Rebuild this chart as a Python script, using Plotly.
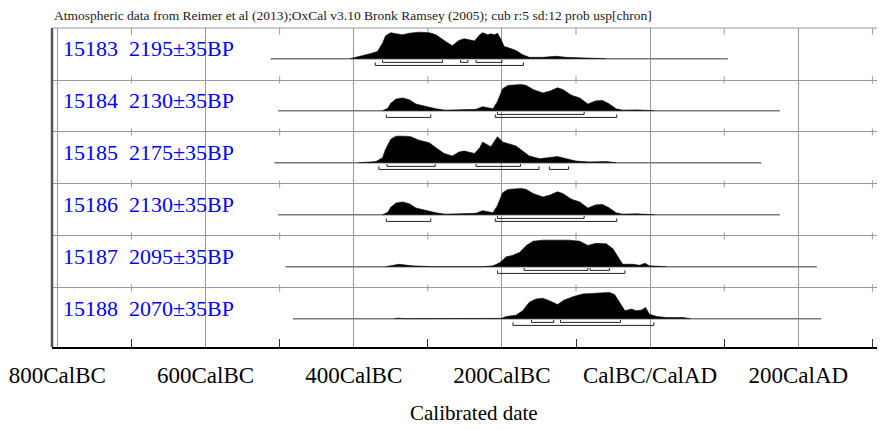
import plotly.graph_objects as go

# ---------------- data ----------------
LAB_CODES = ["15183", "15184", "15185", "15186", "15187", "15188"]
BP_AGES = [2195, 2130, 2175, 2130, 2095, 2070]
BP_ERRORS = [35, 35, 35, 35, 35, 35]

# extent of the distribution line for each sample (cal years, negative = BC)
SPAN_START = [-512, -502, -507, -502, -492, -482]
SPAN_END = [105, 175, 150, 175, 225, 231]

# probability distributions (relative probability, cal years)
YEARS_15183 = [-405, -397, -379, -368, -361, -357, -350, -343, -334, -325, -312, -298, -289, -276, -267,
               -258, -251, -244, -237, -230, -226, -219, -215, -210, -206, -201, -197, -190, -181, -172,
               -163, -145, -127, -113, -82, -60]
PROB_15183 = [0, 0.05, 0.18, 0.27, 0.59, 0.86, 0.98, 0.94, 0.90, 0.96, 1.00, 0.98, 0.90, 0.65, 0.49,
              0.69, 0.75, 0.71, 0.67, 0.90, 0.98, 0.90, 0.94, 0.90, 0.96, 0.71, 0.46, 0.40, 0.31, 0.15,
              0.05, 0.05, 0.09, 0.05, 0.01, 0]

YEARS_15184 = [-361, -354, -350, -343, -334, -325, -316, -303, -289, -276, -253, -235, -226, -219, -212,
               -206, -199, -192, -183, -174, -167, -158, -145, -136, -125, -118, -106, -95, -84, -73,
               -64, -55, -46, -37, -19, -1, 5]
PROB_15184 = [0, 0.09, 0.28, 0.44, 0.48, 0.41, 0.25, 0.15, 0.07, 0.02, 0.04, 0.05, 0.15, 0.12, 0.07,
              0.35, 0.83, 0.95, 0.96, 0.99, 0.95, 0.80, 0.67, 0.73, 0.86, 0.80, 0.58, 0.48, 0.25, 0.37,
              0.38, 0.25, 0.07, 0.02, 0.03, 0.02, 0]

YEARS_15185 = [-393, -370, -361, -357, -350, -343, -332, -323, -312, -298, -289, -278, -267, -258, -251,
               -237, -230, -226, -215, -206, -199, -190, -181, -172, -163, -149, -136, -125, -113, -100,
               -82, -59, -46]
PROB_15185 = [0, 0.04, 0.19, 0.51, 0.88, 1.0, 1.0, 0.98, 0.85, 0.75, 0.56, 0.35, 0.25, 0.40, 0.44,
              0.35, 0.56, 0.78, 0.60, 0.98, 0.78, 0.69, 0.63, 0.44, 0.25, 0.15, 0.18, 0.23, 0.15, 0.06,
              0.03, 0.04, 0]

YEARS_15186 = [-361, -354, -350, -343, -334, -325, -316, -303, -289, -276, -253, -235, -226, -219, -212,
               -206, -199, -192, -183, -174, -167, -158, -145, -136, -125, -118, -106, -95, -84, -73,
               -64, -55, -46, -37, -19, -1, 5]
PROB_15186 = [0, 0.09, 0.28, 0.44, 0.48, 0.41, 0.25, 0.15, 0.07, 0.02, 0.04, 0.05, 0.15, 0.12, 0.07,
              0.35, 0.83, 0.95, 0.96, 0.99, 0.95, 0.80, 0.67, 0.73, 0.86, 0.80, 0.58, 0.48, 0.25, 0.37,
              0.38, 0.25, 0.07, 0.02, 0.03, 0.02, 0]

YEARS_15187 = [-357, -339, -321, -294, -226, -212, -203, -194, -185, -176, -167, -158, -145, -127, -118,
               -109, -95, -84, -73, -59, -50, -43, -37, -23, -14, -7, -1, 22]
PROB_15187 = [0, 0.09, 0.03, 0, 0, 0.03, 0.15, 0.37, 0.43, 0.54, 0.80, 0.96, 1.0, 1.0, 0.99,
              1.0, 0.96, 0.80, 0.88, 0.86, 0.67, 0.35, 0.09, 0.09, 0.05, 0.13, 0.03, 0]

YEARS_15188 = [-345, -339, -332, -205, -201, -194, -181, -172, -163, -154, -145, -136, -125, -116, -104,
               -91, -77, -64, -55, -48, -41, -34, -25, -19, -12, -6, -1, 9, 22, 45, 54]
PROB_15188 = [0, 0.02, 0, 0, 0.01, 0.08, 0.13, 0.30, 0.62, 0.74, 0.77, 0.68, 0.53, 0.70, 0.83,
              0.93, 0.96, 0.97, 0.99, 0.91, 0.62, 0.30, 0.36, 0.30, 0.32, 0.42, 0.17, 0.08, 0.04, 0.04, 0]

# highest posterior density ranges (68.2% and 95.4%)
RANGES_68 = [
    [(-361, -280), (-256, -246), (-235, -200)],
    [(-206, -89)],
    [(-355, -290), (-235, -175)],
    [(-206, -89)],
    [(-170, -84), (-81, -55)],
    [(-160, -130), (-121, -40)],
]
RANGES_95 = [
    [(-371, -171)],
    [(-356, -296), (-209, -45)],
    [(-366, -150), (-136, -110)],
    [(-356, -296), (-209, -45)],
    [(-206, -34)],
    [(-185, 5)],
]

TICK_VALS = [-800, -600, -400, -200, 0, 200]
TICK_TEXT = ["800CalBC", "600CalBC", "400CalBC", "200CalBC", "CalBC/CalAD", "200CalAD"]
MINOR_TICKS = [-700, -500, -300, -100, 100, 300]

HEADER = ("Atmospheric data from Reimer et al (2013);OxCal v3.10 Bronk Ramsey (2005); "
          "cub r:5 sd:12 prob usp[chron]")
AXIS_TITLE = "Calibrated date"

DENS_YEARS = [YEARS_15183, YEARS_15184, YEARS_15185, YEARS_15186, YEARS_15187, YEARS_15188]
DENS_PROBS = [PROB_15183, PROB_15184, PROB_15185, PROB_15186, PROB_15187, PROB_15188]

# ---------------- styling ----------------
SERIF = "Liberation Serif, Times New Roman, serif"
GRID = "#9a9a9a"
ROW_BASE = 0.59      # baseline position inside a row (row units)
DENS_SCALE = 0.51    # height of a unit probability (row units)
B1, B2, B3 = 0.025, 0.072, 0.13   # bracket geometry below baseline
N_ROWS = len(LAB_CODES)
Y_BOTTOM = 6.135

fig = go.Figure()

# short ticks on row separators and top frame
tx, ty = [], []
for yr in MINOR_TICKS:
    tx += [yr, yr, None]
    ty += [0, 0.13, None]
    for r in range(1, N_ROWS):
        tx += [yr, yr, None]
        ty += [r - 0.068, r + 0.068, None]
fig.add_trace(go.Scatter(x=tx, y=ty, mode="lines", line=dict(color=GRID, width=1),
                         hoverinfo="skip"))

for r in range(N_ROWS):
    base = r + ROW_BASE
    # distribution line
    fig.add_trace(go.Scatter(x=[SPAN_START[r], SPAN_END[r]], y=[base, base], mode="lines",
                             line=dict(color="#7a7a7a", width=1.5), hoverinfo="skip"))
    # density
    xs = DENS_YEARS[r]
    ps = DENS_PROBS[r]
    px = [xs[0]] + list(xs) + [xs[-1]]
    py = [base] + [base - p * DENS_SCALE for p in ps] + [base]
    fig.add_trace(go.Scatter(x=px, y=py, mode="lines", fill="toself", fillcolor="black",
                             line=dict(color="black", width=0.6), hoverinfo="skip"))
    # 68.2% brackets
    bx, by = [], []
    for a, b in RANGES_68[r]:
        bx += [a, a, b, b, None]
        by += [base + B1, base + B2, base + B2, base + B1, None]
    fig.add_trace(go.Scatter(x=bx, y=by, mode="lines", line=dict(color="#222222", width=1),
                             hoverinfo="skip"))
    # 95.4% brackets
    bx, by = [], []
    for a, b in RANGES_95[r]:
        bx += [a, a, b, b, None]
        by += [base + B2, base + B3, base + B3, base + B2, None]
    fig.add_trace(go.Scatter(x=bx, y=by, mode="lines", line=dict(color="#222222", width=1),
                             hoverinfo="skip"))
    # label
    fig.add_annotation(x=-795, y=r + 0.385, xref="x", yref="y", xanchor="left", yanchor="middle",
                       text=f"{LAB_CODES[r]}  {BP_AGES[r]}±{BP_ERRORS[r]}BP", showarrow=False,
                       font=dict(family=SERIF, size=22, color="#0000ff"))

fig.add_annotation(x=0, y=1.038, xref="paper", yref="paper", xanchor="left", yanchor="middle",
                   text=HEADER, showarrow=False, font=dict(family=SERIF, size=13.5, color="#222222"))
fig.add_annotation(x=0.5066, y=-0.207, xref="paper", yref="paper", xanchor="center",
                   yanchor="middle", text=AXIS_TITLE, showarrow=False,
                   font=dict(family=SERIF, size=21, color="black"))

# frame lines
fig.add_shape(type="line", xref="paper", yref="paper", x0=0, x1=1, y0=1, y1=1,
              line=dict(color=GRID, width=1.2))
fig.add_shape(type="line", xref="paper", yref="paper", x0=0, x1=0, y0=0, y1=1,
              line=dict(color="#555555", width=2.5))

# the page body adds an 8px offset, so the figure is 8px smaller and margins shifted
fig.update_layout(
    template="none",
    width=877, height=422,
    margin=dict(l=44, r=0, t=20, b=83, pad=0),
    paper_bgcolor="white", plot_bgcolor="white",
    showlegend=False,
    xaxis=dict(range=[-807.2, 317.0], tickvals=TICK_VALS, ticktext=TICK_TEXT, automargin=False,
               showgrid=True, gridcolor=GRID, gridwidth=1, zeroline=False,
               showline=True, linecolor="black", linewidth=1.5, ticks="",
               ticklabelstandoff=7,
               tickfont=dict(family=SERIF, size=23, color="black"),
               minor=dict(tickvals=MINOR_TICKS, ticks="inside", ticklen=8, tickcolor="#333333",
                          tickwidth=1, showgrid=False)),
    yaxis=dict(range=[Y_BOTTOM, 0], tickvals=[1, 2, 3, 4, 5], showgrid=True, gridcolor=GRID,
               automargin=False, gridwidth=1, zeroline=False, showticklabels=False, ticks="",
               showline=False),
)

fig.write_html("out.html")
